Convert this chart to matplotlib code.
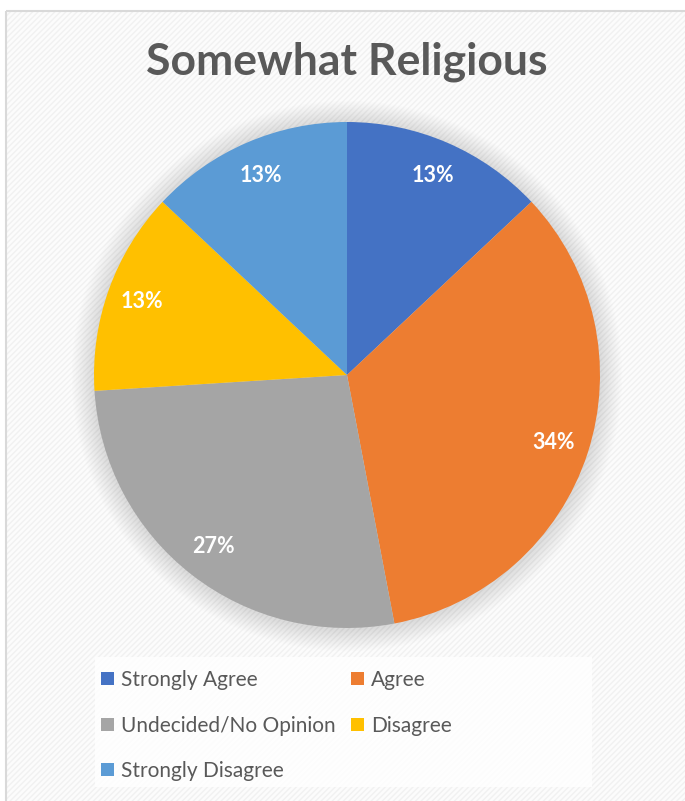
import matplotlib.pyplot as plt
from matplotlib.patches import Rectangle, Circle

# data
categories = ['Strongly Agree', 'Agree', 'Undecided/No Opinion', 'Disagree', 'Strongly Disagree']
values = [13, 34, 27, 13, 13]
colors = ['#4472C4', '#ED7D31', '#A5A5A5', '#FFC000', '#5B9BD5']
title = 'Somewhat Religious'

W, H = 685, 801
fig = plt.figure(figsize=(W / 100, H / 100), dpi=100)
plt.rcParams['font.family'] = ['Lato', 'DejaVu Sans']
plt.rcParams['hatch.linewidth'] = 1.0

# chart area frame with faint diagonal stripes
bg = fig.add_axes([0, 0, 1, 1])
bg.set_xlim(0, W)
bg.set_ylim(H, 0)
bg.axis('off')
bg.add_patch(Rectangle((6.5, 10.5), W + 10, H + 10, facecolor='#fcfcfc',
                       edgecolor='#f1f1f1', linewidth=0, hatch='//////'))
bg.add_patch(Rectangle((6.5, 10.5), W + 10, H + 10, facecolor='none',
                       edgecolor='#d9d9d9', linewidth=1.5))
# legend background box
bg.add_patch(Rectangle((95, 657), 497, 130, facecolor='white', alpha=0.8,
                       edgecolor='none'))

# pie axes: centre (347, 375), radius 253 px
cx, cy, r = 347, 375, 253
ax = fig.add_axes([(cx - r) / W, (H - cy - r) / H, 2 * r / W, 2 * r / H])

# soft shadow around the pie
for i in range(16):
    ax.add_patch(Circle((0, -0.004), 1.0 + 0.0055 * (16 - i), facecolor='#000000',
                        alpha=0.009, edgecolor='none', zorder=0, clip_on=False))

wedges, texts, autotexts = ax.pie(
    values, colors=colors, startangle=90, counterclock=False, radius=1.0,
    autopct=lambda p: f'{p:.0f}%', pctdistance=0.86,
    wedgeprops=dict(edgecolor='none', linewidth=0),
    textprops=dict(color='white', fontsize=15.5, fontweight='bold'))
for w in wedges:
    w.set_zorder(2)
for t in autotexts:
    t.set_zorder(3)
ax.set_xlim(-1, 1)
ax.set_ylim(-1, 1)
ax.axis('off')

fig.text(cx / W, 1 - 62 / H, title, ha='center', va='center',
         fontsize=32, fontweight='bold', color='#595959')

# legend, filled row by row like the reference
order = [0, 2, 4, 1, 3]
leg = fig.legend([wedges[i] for i in order], [categories[i] for i in order],
                 ncol=2, loc='upper left', bbox_to_anchor=(97 / W, 1 - 666 / H),
                 frameon=False, fontsize=15,
                 handlelength=0.6, handleheight=0.6, handletextpad=0.35,
                 columnspacing=0.75, labelspacing=1.22, borderpad=0.2,
                 borderaxespad=0)
for t in leg.get_texts():
    t.set_color('#595959')
for h in leg.legend_handles:
    h.set_edgecolor('none')

fig.savefig('out.png', dpi=100)
